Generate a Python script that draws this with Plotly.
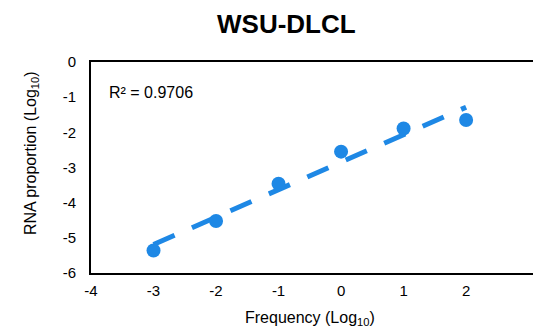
import numpy as np
import plotly.graph_objects as go

# Data (log10 values)
frequency_log10 = [-3, -2, -1, 0, 1, 2]
rna_proportion_log10 = [-5.36, -4.52, -3.46, -2.55, -1.89, -1.65]
x_ticks = [-4, -3, -2, -1, 0, 1, 2]
y_ticks = [0, -1, -2, -3, -4, -5, -6]
title_text = "WSU-DLCL"
r2_label = "R² = 0.9706"

BLUE = "#1E88E5"
FONT = "Arial, Liberation Sans, sans-serif"

W, H = 533, 333
ML, MR, MT, MB = 91, 0, 62, 60
PW, PH = W - ML - MR, H - MT - MB


def px_to_paper(px, py):
    return (px - ML) / PW, (H - MB - py) / PH


# Linear least-squares trendline across the data range
slope, intercept = np.polyfit(frequency_log10, rna_proportion_log10, 1)
trend_x = [min(frequency_log10), max(frequency_log10)]
trend_y = [slope * v + intercept for v in trend_x]

fig = go.Figure()
fig.add_trace(go.Scatter(
    x=trend_x, y=trend_y, mode="lines",
    line=dict(color=BLUE, width=5, dash="23px,19px"),
    hoverinfo="skip", showlegend=False,
))
fig.add_trace(go.Scatter(
    x=frequency_log10, y=rna_proportion_log10, mode="markers",
    marker=dict(color=BLUE, size=14, line=dict(width=0)),
    showlegend=False,
))

fig.update_xaxes(
    range=[-4, 3.07], tickvals=x_ticks, ticktext=[str(v) for v in x_ticks],
    showgrid=False, zeroline=False, showline=True, mirror=True,
    linecolor="black", linewidth=2, ticks="", ticklabelstandoff=3,
    tickfont=dict(family=FONT, size=15, color="black"),
)
fig.update_yaxes(
    range=[-6, 0], tickvals=y_ticks, ticktext=[str(v) for v in y_ticks],
    showgrid=False, zeroline=False, showline=True, mirror=False,
    linecolor="black", linewidth=2, ticks="", ticklabelstandoff=10,
    tickfont=dict(family=FONT, size=15, color="black"),
)


def label(text, px, py, size, xanchor="center", angle=0, bold=False):
    x, y = px_to_paper(px, py)
    return dict(text=f"<b>{text}</b>" if bold else text, x=x, y=y,
                xref="paper", yref="paper", xanchor=xanchor, yanchor="middle",
                textangle=angle, showarrow=False,
                font=dict(family=FONT, size=size, color="black"))


annotations = [
    label(title_text, 286, 24, 26, bold=True),
    label("Frequency (Log<sub>10</sub>)", 310, 318, 16),
    label("RNA proportion (Log<sub>10</sub>)", 31, 153, 16, angle=-90),
    label(r2_label, 107, 92, 16, xanchor="left"),
]

fig.update_layout(
    width=W, height=H,
    margin=dict(l=ML, r=MR, t=MT, b=MB),
    paper_bgcolor="white", plot_bgcolor="white",
    annotations=annotations,
)

fig.write_html("out.html")
